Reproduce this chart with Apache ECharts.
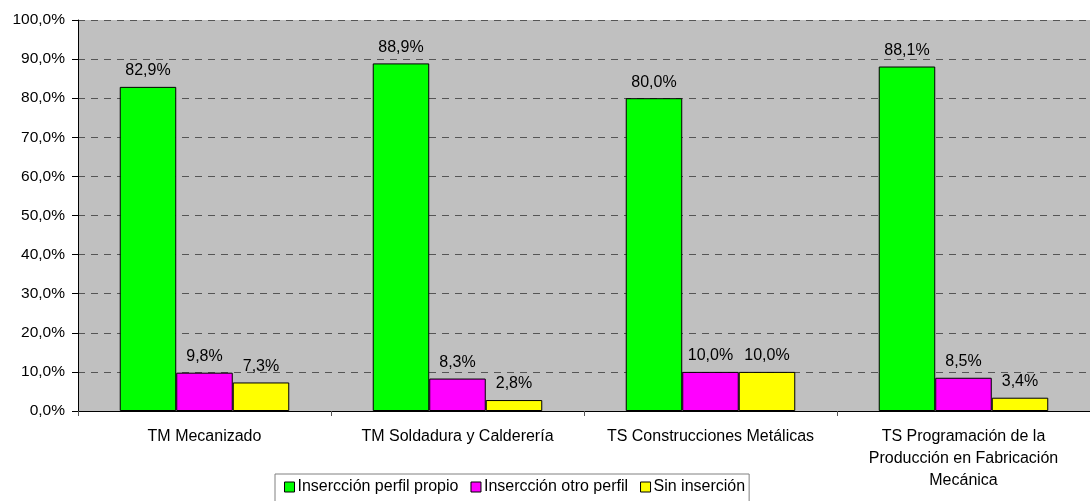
<!DOCTYPE html>
<html>
<head>
<meta charset="utf-8">
<script src="https://cdn.jsdelivr.net/npm/echarts@6/dist/echarts.min.js"></script>
<style>
html,body{margin:0;padding:0;background:#fff;}
#c{width:1090px;height:501px;}
</style>
</head>
<body>
<div id="c"></div>
<script>
const categories = ['TM Mecanizado', 'TM Soldadura y Calderería', 'TS Construcciones Metálicas', 'TS Programación de la\nProducción en Fabricación\nMecánica'];
const seriesNames = ['Insercción perfil propio', 'Insercción otro perfil', 'Sin inserción'];
const propio = [82.9, 88.9, 80.0, 88.1];
const otro = [9.8, 8.3, 10.0, 8.5];
const sin = [7.3, 2.8, 10.0, 3.4];
const colors = ['#00FF00', '#FF00FF', '#FFFF00'];

const font = 'Liberation Sans, Arial, sans-serif';
const fmt = v => v.toFixed(1).replace('.', ',') + '%';

const chart = echarts.init(document.getElementById('c'));
const mk = (name, data, color) => ({
  name, type: 'bar', data,
  barGap: '0%', barCategoryGap: '33%',
  itemStyle: { color, borderColor: '#000', borderWidth: 1 },
  label: { show: true, position: 'top', distance: 8, color: '#000', fontFamily: font, fontSize: 16,
    formatter: p => fmt(p.value) },
  emphasis: { disabled: true }
});
chart.setOption({
  animation: false,
  textStyle: { fontFamily: font },
  grid: { left: 78, right: -9, top: 20, bottom: 90, backgroundColor: '#C0C0C0', show: true, borderWidth: 0 },
  legend: {
    data: seriesNames, left: 275, top: 474,
    padding: [5, 4, 8, 9],
    borderColor: '#808080', borderWidth: 1,
    itemWidth: 10, itemHeight: 10, itemGap: 12,
    icon: 'rect',
    itemStyle: { borderColor: '#000', borderWidth: 1 },
    textStyle: { color: '#000', fontSize: 16, fontFamily: font, padding: [0, 0, 0, -2] }
  },
  xAxis: {
    type: 'category', data: categories,
    axisLine: { lineStyle: { color: '#000', width: 1 } },
    axisTick: { show: true, length: 5, lineStyle: { color: '#555' } },
    axisLabel: { color: '#000', fontSize: 16, fontFamily: font, margin: 15, lineHeight: 22, interval: 0 },
    splitLine: { show: false }
  },
  yAxis: {
    type: 'value', min: 0, max: 100, interval: 10,
    axisLine: { show: true, lineStyle: { color: '#000', width: 1 } },
    axisTick: { show: true, length: 6, lineStyle: { color: '#000' } },
    axisLabel: { color: '#000', fontSize: 15.5, fontFamily: font, margin: 13, formatter: v => fmt(v) },
    splitLine: { show: true, lineStyle: { color: '#555', type: [7, 6], width: 1 } }
  },
  series: [mk(seriesNames[0], propio, colors[0]), mk(seriesNames[1], otro, colors[1]), mk(seriesNames[2], sin, colors[2])]
});
</script>
</body>
</html>
